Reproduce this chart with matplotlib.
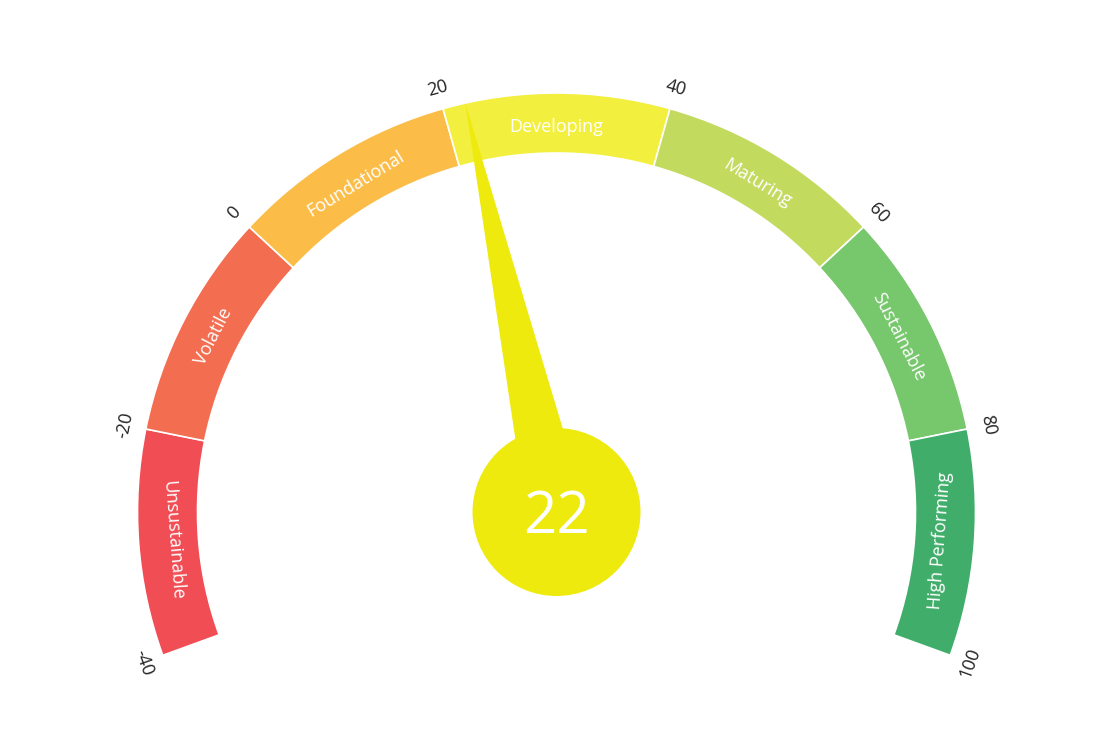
import numpy as np
import matplotlib
matplotlib.use("Agg")
import matplotlib.pyplot as plt
from matplotlib.patches import Wedge, Circle, Polygon

# ---- data ----
band_labels = ["Unsustainable", "Volatile", "Foundational", "Developing",
               "Maturing", "Sustainable", "High Performing"]
band_edges = [-40, -20, 0, 20, 40, 60, 80, 100]
band_colors = ["#F04D55", "#F36D50", "#FCBD48", "#F3EF3E",
               "#C2DB5F", "#77C76D", "#40AE6A"]
tick_values = [-40, -20, 0, 20, 40, 60, 80, 100]
value = 22
needle_color = "#EEEA0E"

# ---- geometry ----
W, H = 1113, 750
cx, cy = 556.5, H - 512
r_out, r_in = 419, 359
start_ang, end_ang = 200.0, -20.0
vmin, vmax = band_edges[0], band_edges[-1]

def ang(v):
    return start_ang + (v - vmin) / (vmax - vmin) * (end_ang - start_ang)

def rot(a):
    r = a - 90
    while r > 90:
        r -= 180
    while r <= -90:
        r += 180
    return r

fig = plt.figure(figsize=(W / 100, H / 100), dpi=100)
ax = fig.add_axes([0, 0, 1, 1])
ax.set_xlim(0, W)
ax.set_ylim(0, H)
ax.set_aspect("equal")
ax.axis("off")

font = ["Open Sans", "DejaVu Sans"]

for i, lab in enumerate(band_labels):
    a1, a2 = ang(band_edges[i + 1]), ang(band_edges[i])
    ax.add_patch(Wedge((cx, cy), r_out, a1, a2, width=r_out - r_in,
                       facecolor=band_colors[i], edgecolor="white", linewidth=1.2))
    am = ang((band_edges[i] + band_edges[i + 1]) / 2)
    rm = 385
    ax.text(cx + rm * np.cos(np.radians(am)), cy + rm * np.sin(np.radians(am)), lab,
            rotation=rot(am), rotation_mode="anchor", ha="center", va="center",
            color="white", fontsize=13, family=font)

for t in tick_values:
    a = ang(t)
    rl = 440
    ax.text(cx + rl * np.cos(np.radians(a)), cy + rl * np.sin(np.radians(a)), str(t),
            rotation=rot(a), rotation_mode="anchor", ha="center", va="center",
            color="#222222", fontsize=13, family=font)

# needle
a = np.radians(ang(value))
u = np.array([np.cos(a), np.sin(a)])
n = np.array([-np.sin(a), np.cos(a)])
c = np.array([cx, cy])
tip = c + u * 419
half_w = 30
ax.add_patch(Polygon([c + n * half_w, tip, c - n * half_w], closed=True,
                     facecolor=needle_color, edgecolor="none"))
ax.add_patch(Circle((cx, cy), 84, facecolor=needle_color, edgecolor="none"))
ax.text(cx, cy - 6, str(value), ha="center", va="center", color="white",
        fontsize=42, family=font)

fig.savefig("out.png", dpi=100, facecolor="white")
